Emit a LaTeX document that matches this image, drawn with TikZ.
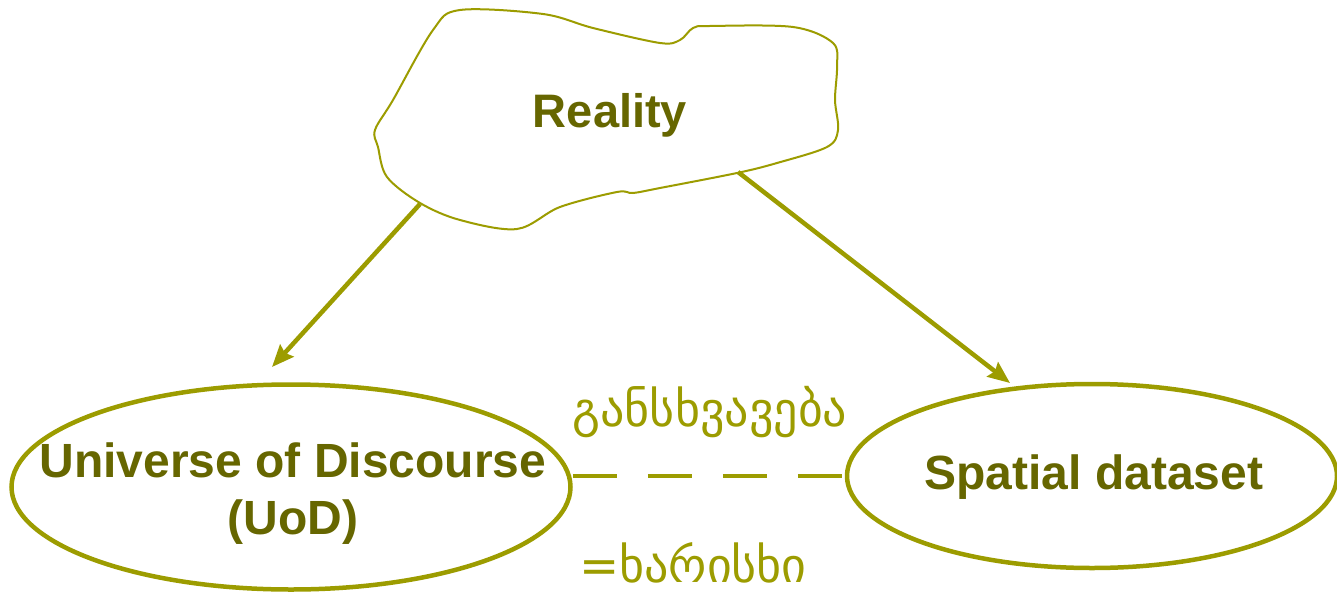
\documentclass[tikz,border=0pt]{standalone}
\usepackage{fontspec}
\setmainfont{Liberation Sans}
\newfontfamily\geo{DejaVu Sans}
\usetikzlibrary{shapes.geometric,arrows.meta}
\definecolor{lineol}{HTML}{9C9C00}
\definecolor{textol}{HTML}{666600}
\tikzset{
  oval/.style={ellipse, draw=lineol, line width=4.5pt, inner sep=0pt},
  ovaltext/.style={align=center, inner sep=0pt, text=textol, font=\fontsize{48}{57}\selectfont\bfseries},
  arr/.style={draw=lineol, line width=4.5pt, -{Stealth[length=22pt,width=18pt,inset=3pt]}},
  geolabel/.style={text=lineol, font=\geo\fontsize{48}{52}\selectfont, inner sep=0pt}
}
\begin{document}
\begin{tikzpicture}[x=1pt,y=-1pt]
\useasboundingbox (0,0) rectangle (1337,596);
% cloud
\draw[lineol, line width=2pt, fill=white] plot[smooth cycle, tension=0.55] coordinates {
 (460,10) (543,14) (593,28) (660,43) (680,40) (693,28) (710,26) (793,27) (833,43)
 (837,67) (835,100) (838,130) (827,147) (777,163) (737,173) (660,188) (633,193)
 (617,192) (560,207) (517,229) (460,220) (420,203) (387,177) (378,147) (375,130)
 (393,100) (433,30)};
\node[text=textol, font=\fontsize{47}{56}\selectfont\bfseries] (reality) at (610,115) {Reality};
\coordinate (rl) at (420,204);
\coordinate (rr) at (738,172);
\node[oval, minimum width=559pt, minimum height=205pt] (uod) at (291,487) {};
\node[ovaltext] (uodt) at (293,494) {Universe of Discourse\\(UoD)};
\node[oval, minimum width=490pt, minimum height=184pt] (sd) at (1092,476) {};
\node[ovaltext] (sdt) at (1094,477) {Spatial dataset};
\coordinate (tl) at (272,367);
\coordinate (tr) at (1010,383);
\draw[arr] (rl) -- (tl);
\draw[arr] (rr) -- (tr);
\draw[draw=lineol, line width=4.5pt, dash pattern=on 44pt off 31pt] (uod.east |- sd.west) -- (sd.west);
\node[geolabel] (diff) at (710,412) {განსხვავება};
\node[geolabel] (qual) at (693,563) {=ხარისხი};
\end{tikzpicture}
\end{document}
